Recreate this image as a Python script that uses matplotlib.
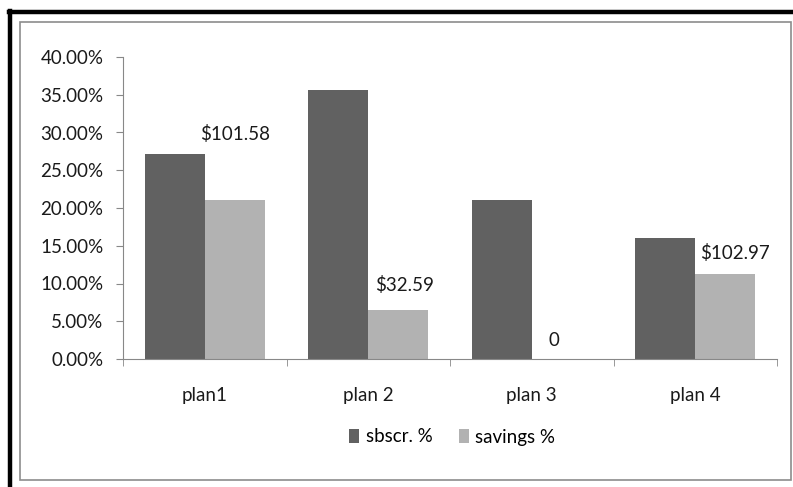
import matplotlib.pyplot as plt
import matplotlib.patches as mpatches
from matplotlib.lines import Line2D
import numpy as np

plans = ['plan1', 'plan 2', 'plan 3', 'plan 4']
sbscr = [0.2715, 0.3563, 0.2106, 0.1603]
savings = [0.2106, 0.0649, 0.0, 0.113]
labels = ['$101.58', '$32.59', '0', '$102.97']
# where each label sits (y in data units), they were dragged by hand in the original
label_y = [0.2985, 0.0985, 0.025, 0.1405]
label_dx = [0.0, 0.04, -0.05, 0.06]

plt.rcParams['font.family'] = ['Lato', 'DejaVu Sans']
fs = 13.5

fig = plt.figure(figsize=(7.93, 4.87), dpi=100)
ax = fig.add_axes([123/793, 1-359/487, 654/793, 302/487])

x = np.arange(len(plans))
w = 0.367
ax.bar(x - w/2, sbscr, w, color='#616161', label='sbscr. %')
ax.bar(x + w/2, savings, w, color='#b2b2b2', label='savings %')

for i, t in enumerate(labels):
    ax.text(x[i] + w/2 + label_dx[i], label_y[i], t, ha='center', va='center', fontsize=fs, color='#1a1a1a')

ax.set_xlim(-0.5, 3.5)
ax.set_ylim(0, 0.40)
ax.set_yticks(np.arange(0, 0.401, 0.05))
ax.set_yticklabels(['%.2f%%' % (v*100) for v in np.arange(0, 0.401, 0.05)], fontsize=fs, color='#1a1a1a')
ax.set_xticks(x)
ax.set_xticklabels(plans, fontsize=fs, color='#1a1a1a')
ax.set_xticks(np.arange(-0.5, 4, 1), minor=True)
ax.tick_params(axis='x', which='major', length=0, pad=20)
ax.tick_params(axis='x', which='minor', length=5, color='#888888', direction='out')
ax.tick_params(axis='y', length=5, color='#888888', pad=9)
for s in ['top', 'right']:
    ax.spines[s].set_visible(False)
for s in ['left', 'bottom']:
    ax.spines[s].set_color('#888888')

fig.legend(loc='center', bbox_to_anchor=(452/793, 1-437/487), ncol=2, frameon=False,
           fontsize=fs, handlelength=0.55, handleheight=0.7, handletextpad=0.35, columnspacing=1.4)

# outer frames
fig.add_artist(mpatches.Rectangle((20/793, 1-480/487), 771/793, 458/487, transform=fig.transFigure,
                                  fill=False, edgecolor='#8c8c8c', linewidth=1.2))
fig.add_artist(Line2D([10/793, 10/793], [0, 1-10.5/487], transform=fig.transFigure, color='black', linewidth=3.2))
fig.add_artist(Line2D([8.5/793, 1], [1-12.3/487, 1-12.3/487], transform=fig.transFigure, color='black', linewidth=3.2))

fig.savefig('out.png', dpi=100)
